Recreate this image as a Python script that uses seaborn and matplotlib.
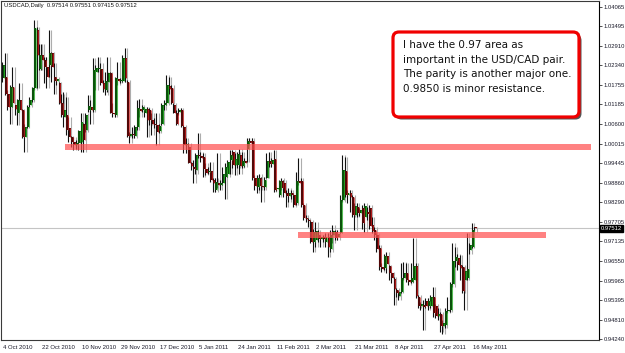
import matplotlib
matplotlib.use("Agg")
import matplotlib.pyplot as plt
import numpy as np
import pandas as pd
import seaborn as sns
from matplotlib.patches import FancyBboxPatch, Rectangle
from matplotlib.transforms import IdentityTransform

# ---------------- data (USDCAD daily) ----------------
open_prices = [
    1.0196, 1.0201, 1.0151, 1.0112, 1.0171, 1.0117, 1.0092, 1.0133, 1.0102, 1.0023,
    1.0052, 1.0117, 1.0132, 1.0166, 1.0339, 1.0225, 1.0265, 1.0250, 1.0230, 1.0235,
    1.0270, 1.0201, 1.0189, 1.0181, 1.0122, 1.0082, 1.0087, 1.0048, 1.0023, 1.0008,
    0.9998, 1.0003, 1.0008, 1.0062, 1.0043, 1.0102, 1.0112, 1.0102, 1.0215, 1.0225,
    1.0225, 1.0181, 1.0161, 1.0186, 1.0211, 1.0094, 1.0087, 1.0194, 1.0188, 1.0189,
    1.0255, 1.0186, 1.0025, 1.0031, 1.0025, 1.0052, 1.0104, 1.0102, 1.0092, 1.0104,
    1.0102, 1.0072, 1.0060, 1.0057, 1.0041, 1.0062, 1.0117, 1.0122, 1.0173, 1.0166,
    1.0117, 1.0092, 1.0097, 1.0102, 1.0052, 0.9998, 0.9993, 0.9944, 0.9934, 0.9924,
    0.9969, 0.9966, 0.9964, 0.9926, 0.9919, 0.9922, 0.9895, 0.9865, 0.9887, 0.9881,
    0.9885, 0.9905, 0.9914, 0.9954, 0.9978, 0.9939, 0.9939, 0.9969, 0.9936, 0.9952,
    0.9988, 1.0010, 1.0011, 0.9900, 0.9875, 0.9902, 0.9877, 0.9875, 0.9902, 0.9952,
    0.9942, 0.9956, 0.9868, 0.9850, 0.9892, 0.9887, 0.9855, 0.9847, 0.9857, 0.9850,
    0.9826, 0.9891, 0.9892, 0.9821, 0.9781, 0.9776, 0.9771, 0.9712, 0.9717, 0.9732,
    0.9719, 0.9725, 0.9712, 0.9725, 0.9689, 0.9732, 0.9742, 0.9727, 0.9739, 0.9835,
    0.9922, 0.9850, 0.9855, 0.9843, 0.9791, 0.9816, 0.9798, 0.9811, 0.9786, 0.9801,
    0.9811, 0.9761, 0.9748, 0.9732, 0.9692, 0.9636, 0.9633, 0.9669, 0.9640, 0.9618,
    0.9603, 0.9569, 0.9551, 0.9564, 0.9606, 0.9618, 0.9600, 0.9593, 0.9600, 0.9640,
    0.9549, 0.9521, 0.9524, 0.9537, 0.9521, 0.9521, 0.9547, 0.9521, 0.9492, 0.9498,
    0.9462, 0.9465, 0.9508, 0.9511, 0.9587, 0.9656, 0.9663, 0.9643, 0.9636, 0.9598,
    0.9606, 0.9687, 0.9696, 0.97514,
]
high_prices = [
    1.0245, 1.0270, 1.0161, 1.0176, 1.0230, 1.0117, 1.0136, 1.0181, 1.0104, 1.0062,
    1.0117, 1.0141, 1.0171, 1.0370, 1.0349, 1.0299, 1.0299, 1.0260, 1.0260, 1.0339,
    1.0275, 1.0240, 1.0201, 1.0186, 1.0151, 1.0156, 1.0141, 1.0082, 1.0025, 1.0023,
    1.0013, 1.0043, 1.0092, 1.0064, 1.0092, 1.0146, 1.0132, 1.0255, 1.0235, 1.0260,
    1.0240, 1.0191, 1.0215, 1.0260, 1.0215, 1.0122, 1.0201, 1.0245, 1.0196, 1.0265,
    1.0285, 1.0191, 1.0038, 1.0052, 1.0057, 1.0132, 1.0136, 1.0117, 1.0112, 1.0112,
    1.0107, 1.0092, 1.0077, 1.0092, 1.0062, 1.0122, 1.0132, 1.0206, 1.0201, 1.0176,
    1.0122, 1.0102, 1.0107, 1.0107, 1.0057, 1.0018, 1.0003, 0.9949, 0.9954, 0.9974,
    1.0033, 0.9978, 0.9974, 0.9944, 0.9934, 0.9949, 0.9900, 0.9900, 0.9974, 0.9895,
    0.9934, 0.9944, 0.9954, 0.9983, 0.9983, 0.9974, 0.9978, 0.9988, 0.9978, 0.9959,
    1.0018, 1.0018, 1.0018, 0.9909, 0.9909, 0.9914, 0.9904, 0.9904, 0.9974, 0.9978,
    0.9959, 0.9983, 0.9875, 0.9894, 0.9900, 0.9894, 0.9865, 0.9870, 0.9865, 0.9855,
    0.9919, 0.9959, 0.9900, 0.9826, 0.9791, 0.9781, 0.9776, 0.9751, 0.9771, 0.9747,
    0.9732, 0.9732, 0.9737, 0.9737, 0.9747, 0.9761, 0.9747, 0.9747, 0.9850, 0.9969,
    0.9964, 0.9865, 0.9865, 0.9850, 0.9826, 0.9826, 0.9811, 0.9821, 0.9826, 0.9816,
    0.9821, 0.9786, 0.9756, 0.9737, 0.9702, 0.9648, 0.9677, 0.9682, 0.9643, 0.9623,
    0.9608, 0.9574, 0.9569, 0.9648, 0.9653, 0.9648, 0.9603, 0.9648, 0.9722, 0.9648,
    0.9554, 0.9534, 0.9539, 0.9544, 0.9544, 0.9554, 0.9579, 0.9529, 0.9515, 0.9505,
    0.9480, 0.9515, 0.9549, 0.9593, 0.9707, 0.9697, 0.9677, 0.9672, 0.9643, 0.9638,
    0.9737, 0.9707, 0.9767, 0.97551,
]
low_prices = [
    1.0186, 1.0146, 1.0102, 1.0062, 1.0112, 1.0087, 1.0057, 1.0097, 1.0018, 0.9978,
    1.0048, 1.0112, 1.0127, 1.0161, 1.0166, 1.0220, 1.0220, 1.0181, 1.0166, 1.0201,
    1.0186, 1.0151, 1.0176, 1.0120, 1.0082, 1.0052, 1.0028, 1.0008, 0.9993, 0.9983,
    0.9988, 0.9983, 0.9978, 0.9978, 1.0038, 1.0097, 1.0062, 1.0097, 1.0161, 1.0215,
    1.0176, 1.0156, 1.0146, 1.0156, 1.0092, 1.0082, 1.0082, 1.0176, 1.0181, 1.0186,
    1.0186, 1.0021, 1.0003, 1.0018, 1.0018, 1.0043, 1.0082, 1.0097, 1.0082, 1.0023,
    1.0057, 1.0028, 1.0048, 0.9998, 1.0033, 1.0057, 1.0102, 1.0117, 1.0151, 1.0120,
    1.0092, 1.0057, 1.0087, 1.0052, 0.9974, 0.9974, 0.9944, 0.9924, 0.9885, 0.9914,
    0.9959, 0.9949, 0.9905, 0.9909, 0.9914, 0.9890, 0.9860, 0.9860, 0.9870, 0.9865,
    0.9880, 0.9840, 0.9905, 0.9914, 0.9929, 0.9909, 0.9929, 0.9914, 0.9929, 0.9934,
    0.9949, 0.9998, 0.9894, 0.9865, 0.9855, 0.9865, 0.9830, 0.9865, 0.9900, 0.9934,
    0.9934, 0.9860, 0.9863, 0.9845, 0.9865, 0.9845, 0.9816, 0.9830, 0.9840, 0.9816,
    0.9821, 0.9880, 0.9816, 0.9776, 0.9771, 0.9756, 0.9707, 0.9682, 0.9697, 0.9712,
    0.9697, 0.9712, 0.9697, 0.9667, 0.9682, 0.9707, 0.9717, 0.9717, 0.9737, 0.9830,
    0.9845, 0.9826, 0.9801, 0.9786, 0.9747, 0.9786, 0.9788, 0.9751, 0.9742, 0.9776,
    0.9751, 0.9737, 0.9717, 0.9682, 0.9628, 0.9623, 0.9628, 0.9618, 0.9598, 0.9589,
    0.9524, 0.9549, 0.9539, 0.9559, 0.9598, 0.9593, 0.9584, 0.9589, 0.9593, 0.9544,
    0.9515, 0.9510, 0.9450, 0.9515, 0.9510, 0.9515, 0.9490, 0.9485, 0.9480, 0.9445,
    0.9440, 0.9455, 0.9500, 0.9505, 0.9579, 0.9638, 0.9628, 0.9598, 0.9559, 0.9510,
    0.9598, 0.9677, 0.9692, 0.97415,
]
close_prices = [
    1.0235, 1.0151, 1.0112, 1.0171, 1.0122, 1.0104, 1.0133, 1.0102, 1.0023, 1.0052,
    1.0112, 1.0133, 1.0166, 1.0344, 1.0265, 1.0265, 1.0250, 1.0230, 1.0201, 1.0270,
    1.0230, 1.0189, 1.0194, 1.0124, 1.0087, 1.0102, 1.0043, 1.0023, 1.0008, 0.9998,
    1.0005, 1.0041, 1.0067, 1.0013, 1.0087, 1.0114, 1.0102, 1.0220, 1.0228, 1.0228,
    1.0181, 1.0163, 1.0189, 1.0211, 1.0094, 1.0090, 1.0196, 1.0188, 1.0191, 1.0255,
    1.0196, 1.0025, 1.0031, 1.0028, 1.0052, 1.0107, 1.0100, 1.0110, 1.0106, 1.0072,
    1.0072, 1.0060, 1.0057, 1.0038, 1.0054, 1.0117, 1.0124, 1.0176, 1.0163, 1.0122,
    1.0094, 1.0062, 1.0102, 1.0054, 0.9998, 1.0001, 0.9946, 0.9936, 0.9926, 0.9969,
    0.9966, 0.9960, 0.9926, 0.9916, 0.9922, 0.9895, 0.9885, 0.9890, 0.9881, 0.9885,
    0.9914, 0.9934, 0.9949, 0.9969, 0.9939, 0.9956, 0.9972, 0.9936, 0.9952, 0.9944,
    1.0010, 1.0005, 0.9900, 0.9877, 0.9902, 0.9877, 0.9873, 0.9896, 0.9952, 0.9942,
    0.9954, 0.9865, 0.9869, 0.9892, 0.9872, 0.9855, 0.9847, 0.9857, 0.9850, 0.9821,
    0.9892, 0.9887, 0.9821, 0.9781, 0.9778, 0.9772, 0.9712, 0.9742, 0.9745, 0.9719,
    0.9725, 0.9719, 0.9727, 0.9697, 0.9732, 0.9745, 0.9722, 0.9735, 0.9835, 0.9924,
    0.9850, 0.9857, 0.9843, 0.9791, 0.9818, 0.9798, 0.9806, 0.9766, 0.9819, 0.9794,
    0.9758, 0.9745, 0.9732, 0.9689, 0.9636, 0.9632, 0.9669, 0.9646, 0.9620, 0.9604,
    0.9571, 0.9559, 0.9563, 0.9606, 0.9620, 0.9600, 0.9592, 0.9606, 0.9640, 0.9551,
    0.9521, 0.9527, 0.9520, 0.9521, 0.9535, 0.9547, 0.9502, 0.9492, 0.9498, 0.9462,
    0.9472, 0.9508, 0.9511, 0.9587, 0.9656, 0.9667, 0.9643, 0.9633, 0.9567, 0.9626,
    0.9630, 0.9701, 0.9748, 0.97512,
]

date_labels = ["4 Oct 2010", "22 Oct 2010", "10 Nov 2010", "29 Nov 2010", "17 Dec 2010",
               "5 Jan 2011", "24 Jan 2011", "11 Feb 2011", "2 Mar 2011", "21 Mar 2011",
               "8 Apr 2011", "27 Apr 2011", "16 May 2011"]
date_label_bars = [0, 16, 32, 48, 64, 80, 96, 112, 128, 144, 160, 176, 192]

price_ticks = [1.04065, 1.03495, 1.02910, 1.02340, 1.01755, 1.01185, 1.00600, 1.00015,
               0.99445, 0.98860, 0.98290, 0.97705, 0.97135, 0.96550, 0.95965, 0.95395,
               0.94810, 0.94240]

zone_low = [0.9984, 0.9724]
zone_high = [1.0002, 0.9742]
zone_start_bar = [25.2, 120.4]
zone_end_bar = [240.3, 221.9]

title_text = "USDCAD,Daily  0.97514 0.97551 0.97415 0.97512"
note_lines = ["I have the 0.97 area as",
              "important in the USD/CAD pair.",
              "The parity is another major one.",
              "0.9850 is minor resistance."]

# ---------------- figure ----------------
sns.set_style("white")
plt.rcParams["font.family"] = ["Liberation Sans", "DejaVu Sans"]

df = pd.DataFrame({"open": open_prices, "high": high_prices,
                   "low": low_prices, "close": close_prices})
df["bar"] = np.arange(len(df))

W, H = 625, 353
fig = plt.figure(figsize=(W / 100, H / 100), dpi=100)
fig.patch.set_facecolor("white")
ax = fig.add_axes([1.5 / W, 13 / H, (599 - 1.5) / W, (352 - 13) / H])

x = df["bar"].to_numpy()
o = df["open"].to_numpy()
c = df["close"].to_numpy()
hi = df["high"].to_numpy()
lo = df["low"].to_numpy()
up = c >= o
body_lo = np.minimum(o, c)
body_h = np.maximum(np.abs(c - o), 0.0003)

# current price line
ax.axhline(close_prices[-1], color="#c4c4c4", lw=0.8, zorder=1)

# candles
ax.vlines(x + 0.62, lo, hi, color="#adadad", lw=0.8, zorder=2)
ax.vlines(x - 0.42, lo, hi, color="#111111", lw=0.8, zorder=3)
ax.bar(x[up] + 0.12, body_h[up], bottom=body_lo[up], width=0.9,
       color="#0a520a", linewidth=0, zorder=4)
ax.bar(x[~up] + 0.12, body_h[~up], bottom=body_lo[~up], width=0.9,
       color="#520707", linewidth=0, zorder=4)
ax.vlines(x[up] + 0.36, body_lo[up], body_lo[up] + body_h[up], color="#2fc02f", lw=0.5, zorder=5)
ax.vlines(x[~up] + 0.36, body_lo[~up], body_lo[~up] + body_h[~up], color="#d42020", lw=0.5, zorder=5)

# zones
for zl, zh, zs, ze in zip(zone_low, zone_high, zone_start_bar, zone_end_bar):
    ax.add_patch(Rectangle((zs, zl), ze - zs, zh - zl, facecolor=(1.0, 0.32, 0.32, 0.72),
                           edgecolor="none", zorder=6))

ax.set_xlim(-0.74, 243.6)
ax.set_ylim(0.94209, 1.0425)

ax.set_xticks(date_label_bars)
ax.set_xticklabels(date_labels, ha="left", fontsize=4.3, color="#1a1a2a")
ax.tick_params(axis="x", direction="out", length=3, width=0.6, pad=0.8, color="#333333")
ax.yaxis.tick_right()
ax.set_yticks(price_ticks)
ax.set_yticklabels([f"{v:.5f}" for v in price_ticks], fontsize=4.2, color="#1a1a2a")
ax.tick_params(axis="y", direction="out", length=2.5, width=0.6, pad=1.0, color="#333333")
for s in ax.spines.values():
    s.set_color("#3a3a3a")
    s.set_linewidth(0.8)
ax.spines["right"].set_color("black")

# current price label
ax.text(1.003, close_prices[-1], f"{close_prices[-1]:.5f}", transform=ax.get_yaxis_transform(),
        ha="left", va="center", fontsize=4.2, color="white", zorder=10, clip_on=False,
        bbox=dict(boxstyle="square,pad=0.15", fc="black", ec="black"))

# title
fig.text(4 / W, 1 - 3.5 / H, title_text, ha="left", va="top", fontsize=4.2, color="#111111")

# annotation box
shadow = FancyBboxPatch((395.5, H - 119.5), 186, 85, boxstyle="round,pad=0,rounding_size=6",
                        transform=IdentityTransform(), facecolor="#555555", edgecolor="none")
box = FancyBboxPatch((393, H - 117), 186, 85, boxstyle="round,pad=0,rounding_size=6",
                     transform=IdentityTransform(), facecolor="white", edgecolor="#f00000", lw=2.3)
fig.add_artist(shadow)
fig.add_artist(box)
fig.text(403 / W, 1 - 40.5 / H, "\n".join(note_lines), ha="left", va="top", fontsize=7.5,
         linespacing=1.55, color="#111111", family=["DejaVu Sans"])

fig.savefig("out.png", dpi=100)
